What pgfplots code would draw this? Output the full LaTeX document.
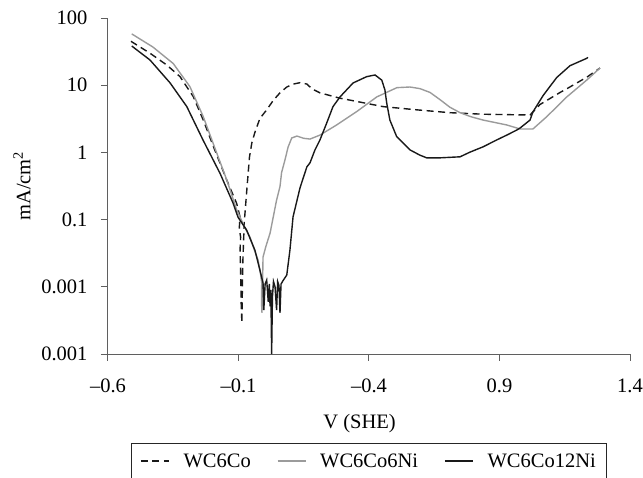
\documentclass[border=0pt]{standalone}
\usepackage{fontspec}
\setmainfont{Liberation Serif}
\usepackage{pgfplots}
\pgfplotsset{compat=1.18}
\usetikzlibrary{calc}

\definecolor{curvegray}{RGB}{155,155,155}
\definecolor{curvedark}{RGB}{25,25,25}
\definecolor{axisgray}{RGB}{95,95,95}

% polarisation curves, current density in mA/cm2 vs V (SHE)
\pgfplotstableread{
x y
-0.512 45.0
-0.439 29.9
-0.375 20.0
-0.324 13.4
-0.273 6.74
-0.235 3.03
-0.196 1.22
-0.145 0.388
-0.107 0.174
-0.094 0.109
-0.097 0.075
-0.092 0.055
-0.094 0.035
-0.091 0.012
-0.090 0.006
-0.087 0.0029
-0.084 0.02
-0.078 0.09
-0.069 0.25
-0.058 0.85
-0.049 1.38
-0.037 2.0
-0.018 3.2
0.008 4.3
0.034 6.0
0.059 7.7
0.085 9.4
0.110 10.4
0.136 10.9
0.162 10.4
0.182 8.8
0.212 7.7
0.289 6.4
0.327 6.0
0.454 4.8
0.583 4.3
0.710 3.9
0.837 3.7
1.017 3.6
1.055 5.16
1.132 7.8
1.159 8.9
1.235 13.2
1.285 18.0
}\wcco

\pgfplotstableread{
x y
-0.509 58
-0.428 37
-0.350 21
-0.286 9.5
-0.235 3.4
-0.183 0.97
-0.145 0.39
-0.107 0.14
-0.094 0.109
-0.075 0.075
-0.056 0.055
-0.040 0.036
-0.025 0.025
-0.015 0.015
-0.011 0.0114
-0.012 0.006
-0.010 0.0041
-0.008 0.010
-0.006 0.0277
0.005 0.040
0.021 0.063
0.046 0.196
0.059 0.31
0.065 0.5
0.078 0.77
0.090 1.2
0.104 1.64
0.124 1.75
0.150 1.62
0.174 1.58
0.212 1.81
0.276 2.56
0.353 4.05
0.430 6.7
0.507 9.2
0.557 9.4
0.595 8.9
0.634 7.8
0.672 6.1
0.710 4.7
0.749 3.9
0.790 3.4
0.837 3.03
0.928 2.56
0.979 2.23
1.028 2.23
1.081 3.4
1.158 6.7
1.234 11.9
1.285 18.0
}\wcconi

\pgfplotstableread{
x y
-0.509 38.3
-0.439 23.7
-0.362 10.8
-0.298 4.8
-0.236 1.53
-0.171 0.49
-0.121 0.177
-0.102 0.109
-0.069 0.070
-0.037 0.035
-0.018 0.0178
-0.006 0.0114
-0.003 0.0045
0.002 0.011
0.008 0.0126
0.014 0.006
0.018 0.011
0.021 0.0051
0.024 0.009
0.027 0.001
0.030 0.007
0.034 0.012
0.040 0.0100
0.046 0.0045
0.050 0.012
0.055 0.0105
0.059 0.0041
0.063 0.011
0.072 0.0126
0.085 0.015
0.097 0.035
0.109 0.11
0.136 0.30
0.162 0.61
0.174 0.70
0.193 1.09
0.212 1.53
0.238 2.74
0.262 4.8
0.289 6.7
0.339 10.8
0.391 13.4
0.423 14.2
0.449 11.9
0.461 8.5
0.468 5.4
0.480 3.03
0.506 1.72
0.557 1.09
0.595 0.91
0.621 0.83
0.672 0.83
0.749 0.86
0.787 1.01
0.837 1.21
0.889 1.53
0.928 1.81
0.966 2.15
0.979 2.31
1.017 3.03
1.028 4.0
1.067 7.0
1.119 13.0
1.170 19.5
1.234 25.1
1.239 26.0
}\wccotwelve

\begin{document}
\begin{tikzpicture}[font=\fontsize{20.5}{24}\selectfont]
\begin{axis}[
  name=ax,
  scale only axis,
  width=522pt, height=336pt,
  ymode=log,
  xmin=-0.6, xmax=1.4,
  ymin=0.001, ymax=100,
  axis lines=left,
  axis line style={-, axisgray, line width=1pt},
  every tick/.style={axisgray, line width=1pt},
  tick align=outside,
  major tick length=7pt,
  yminorticks=false,
  xtick={-0.6,-0.1,0.4,0.9,1.4},
  xticklabels={–0.6,–0.1,–0.4,0.9,1.4},
  ytick={0.001,0.01,0.1,1,10,100},
  yticklabels={0.001,0.001,0.1,1,10,100},
  xticklabel style={yshift=-14pt},
  yticklabel style={xshift=-10pt},
  /pgf/number format/assume math mode=true,
  xlabel={V (SHE)},
  ylabel={mA/cm\textsuperscript{2}},
  every axis x label/.style={at={(axis description cs:0.482,0)}, yshift=-70pt, anchor=center},
  every axis y label/.style={at={(axis description cs:0,0.5)}, xshift=-86pt, rotate=90, anchor=center},
  clip=false,
  legend columns=3,
  legend cell align=left,
  legend style={at={(0.5,-0.265)}, anchor=north, draw=black!85, line width=0.8pt,
    inner xsep=9pt, inner ysep=8pt},
  legend image code/.code={\draw[#1] (0pt,0pt) -- (28pt,0pt);},
]
\addplot[curvedark, line width=1.4pt, dash pattern=on 7pt off 4.5pt] table {\wcco};
\addplot[curvegray, line width=1.4pt] table {\wcconi};
\addplot[curvedark, line width=1.4pt] table {\wccotwelve};
\legend{{\kern12pt WC6Co\kern24pt}, {\kern12pt WC6Co6Ni\kern24pt}, {\kern12pt WC6Co12Ni}}
\end{axis}
\pgfresetboundingbox
\path[use as bounding box] ($(ax.south west)+(-108pt,-123pt)$) rectangle ($(ax.south west)+(535pt,354pt)$);
\end{tikzpicture}
\end{document}
